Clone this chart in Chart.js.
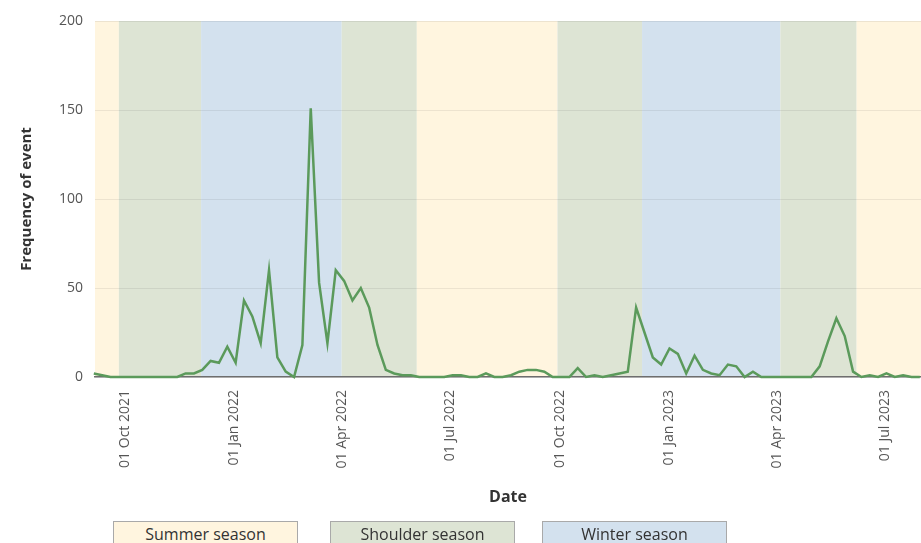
<!DOCTYPE html>
<html>
<head>
<meta charset="utf-8">
<title>Frequency of event</title>
<script src="https://cdn.jsdelivr.net/npm/chart.js@4/dist/chart.umd.min.js"></script>
<style>
  html, body { margin: 0; padding: 0; background: #fff; }
  .wrap { position: relative; width: 921px; height: 543px; overflow: hidden; font-family: 'Open Sans', sans-serif; }
  .legend-box {
    position: absolute; top: 521px; width: 183px; height: 24px;
    border: 1px solid #a9a9a9; color: #333; font-size: 16px;
    line-height: 24px; text-align: center;
  }
</style>
</head>
<body>
<div class="wrap">
  <canvas id="eventChart"></canvas>
  <div id="legend"></div>
</div>
<script>
// ── Data ──
const firstWeek = '2021-09-05';   // weekly counts, one per Sunday
const eventCounts = [
  2, 1, 0, 0, 0, 0, 0, 0, 0, 0,
  0, 2, 2, 4, 9, 8, 17, 8, 43, 34,
  19, 60, 11, 3, 0, 18, 151, 53, 19, 60,
  54, 43, 50, 39, 18, 4, 2, 1, 1, 0,
  0, 0, 0, 1, 1, 0, 0, 2, 0, 0,
  1, 3, 4, 4, 3, 0, 0, 0, 5, 0,
  1, 0, 1, 2, 3, 39, 25, 11, 7, 16,
  13, 2, 12, 4, 2, 1, 7, 6, 0, 3,
  0, 0, 0, 0, 0, 0, 0, 6, 20, 33,
  23, 3, 0, 1, 0, 2, 0, 1, 0, 0
];
const xTickDates = ['2021-10-01', '2022-01-01', '2022-04-01', '2022-07-01',
                    '2022-10-01', '2023-01-01', '2023-04-01', '2023-07-01'];
const yTicks = [0, 50, 100, 150, 200];
const axisRange = ['2021-09-06', '2023-07-31'];

// season bands: start, end, season
const seasonStarts = ['2021-09-01', '2021-09-26', '2021-12-04', '2022-04-01', '2022-06-03',
                      '2022-09-29', '2022-12-09', '2023-04-04', '2023-06-07'];
const seasonEnds   = ['2021-09-26', '2021-12-04', '2022-04-01', '2022-06-03', '2022-09-29',
                      '2022-12-09', '2023-04-04', '2023-06-07', '2023-09-01'];
const seasonKinds  = ['summer', 'shoulder', 'winter', 'shoulder', 'summer',
                      'shoulder', 'winter', 'shoulder', 'summer'];

const seasonNames = ['Summer season', 'Shoulder season', 'Winter season'];
const seasonColors = { summer: '#fff5df', shoulder: '#dde4d4', winter: '#d3e1ee' };

const DAY = 86400000;
const MONTHS = ['Jan','Feb','Mar','Apr','May','Jun','Jul','Aug','Sep','Oct','Nov','Dec'];

function fmtDate(ms) {
  const d = new Date(ms);
  return String(d.getUTCDate()).padStart(2, '0') + ' ' + MONTHS[d.getUTCMonth()] + ' ' + d.getUTCFullYear();
}

const startMs = Date.parse(firstWeek);
const points = eventCounts.map((v, i) => ({ x: startMs + i * 7 * DAY, y: v }));

// ── Season background plugin ──
const seasonBands = {
  id: 'seasonBands',
  beforeDraw(chart) {
    const { ctx, chartArea: a, scales: { x } } = chart;
    ctx.save();
    ctx.beginPath();
    ctx.rect(a.left, a.top, a.right - a.left, a.bottom - a.top);
    ctx.clip();
    seasonStarts.forEach((s, i) => {
      const x0 = x.getPixelForValue(Date.parse(s));
      const x1 = x.getPixelForValue(Date.parse(seasonEnds[i]));
      ctx.fillStyle = seasonColors[seasonKinds[i]];
      ctx.fillRect(x0, a.top, x1 - x0, a.bottom - a.top);
    });
    ctx.restore();
  }
};

// ── Chart ──
Chart.defaults.font.family = "'Open Sans', sans-serif";
Chart.defaults.color = '#555';

new Chart(document.getElementById('eventChart'), {
  type: 'line',
  data: {
    datasets: [{
      label: 'Frequency of event',
      data: points,
      borderColor: '#5b9a5b',
      borderWidth: 2.5,
      pointRadius: 0,
      tension: 0,
      clip: false
    }]
  },
  options: {
    responsive: true, maintainAspectRatio: false, animation: false,
    layout: { padding: { top: 21, right: 0, bottom: 36, left: 0 } },
    plugins: { legend: { display: false }, tooltip: { enabled: false } },
    scales: {
      x: {
        type: 'linear',
        min: Date.parse(axisRange[0]),
        max: Date.parse(axisRange[1]),
        afterBuildTicks: s => { s.ticks = xTickDates.map(d => ({ value: Date.parse(d) })); },
        afterFit: s => { s.height = 130; },
        grid: { display: false, drawTicks: false },
        border: { display: true, color: '#6e6e6e', width: 1.5 },
        ticks: {
          autoSkip: false, minRotation: 90, maxRotation: 90, padding: 13,
          font: { size: 14 }, color: '#555',
          callback: v => fmtDate(v)
        },
        title: {
          display: true, text: 'Date', color: '#333',
          font: { size: 16, weight: 'bold' }, padding: { top: 0, bottom: 0 }
        }
      },
      y: {
        min: 0, max: 200,
        afterBuildTicks: s => { s.ticks = yTicks.map(v => ({ value: v })); },
        afterFit: s => { s.width = 95; },
        grid: { color: 'rgba(0,0,0,0.07)', drawTicks: false },
        border: { display: false },
        ticks: { padding: 12, font: { size: 14 }, color: '#555' },
        title: {
          display: true, text: 'Frequency of event', color: '#333',
          font: { size: 15, weight: 'bold' }, padding: { top: 18, bottom: 0 }
        }
      }
    }
  },
  plugins: [seasonBands]
});

// ── Legend ──
const legendLeft = [113, 330, 542];
document.getElementById('legend').innerHTML = seasonNames.map((name, i) => {
  const kind = ['summer', 'shoulder', 'winter'][i];
  return `<div class="legend-box" style="left:${legendLeft[i]}px;background:${seasonColors[kind]}">${name}</div>`;
}).join('');
</script>
</body>
</html>
